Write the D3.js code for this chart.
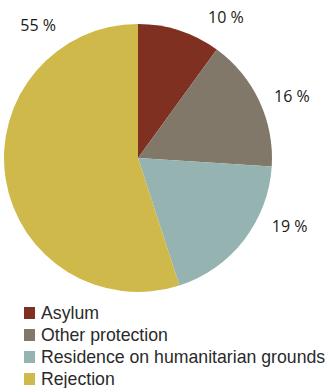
<!DOCTYPE html>
<html>
<head>
<meta charset="utf-8">
<script src="https://cdn.jsdelivr.net/npm/d3@7/dist/d3.min.js"></script>
<style>
  html, body { margin: 0; padding: 0; background: #fff; }
  svg { display: block; }
</style>
</head>
<body>
<svg id="chart" width="331" height="388"></svg>
<script>
// Outcome of decisions, share in percent
const categories = ["Asylum", "Other protection", "Residence on humanitarian grounds", "Rejection"];
const shares = [10, 16, 19, 55];
const colors = ["#7f3020", "#81786a", "#95b3b0", "#cfb94b"];

// Angle (degrees from 12 o'clock) at which each percentage label sits
const labelAngles = [32, 68, 114, 323];

const svg = d3.select("#chart");
const cx = 138, cy = 158, r = 134, labelR = 166;

const pie = d3.pie().sort(null).value(d => d)(shares);
const arc = d3.arc().innerRadius(0).outerRadius(r);

const g = svg.append("g").attr("transform", `translate(${cx},${cy})`);
g.selectAll("path")
  .data(pie)
  .join("path")
  .attr("d", arc)
  .attr("fill", (d, i) => colors[i]);

g.selectAll("text.pct")
  .data(pie)
  .join("text")
  .attr("class", "pct")
  .attr("x", (d, i) => labelR * Math.sin(labelAngles[i] * Math.PI / 180))
  .attr("y", (d, i) => -labelR * Math.cos(labelAngles[i] * Math.PI / 180))
  .attr("text-anchor", "middle")
  .attr("dominant-baseline", "central")
  .attr("font-family", "'Open Sans', 'Noto Sans', sans-serif")
  .attr("font-size", 16)
  .attr("fill", "#1a1a1a")
  .text(d => `${d.data} %`);

// Legend
const legend = svg.append("g").attr("transform", "translate(24,313)");
const rows = legend.selectAll("g")
  .data(categories)
  .join("g")
  .attr("transform", (d, i) => `translate(0,${i * 22})`);
rows.append("rect")
  .attr("x", 0).attr("y", -6)
  .attr("width", 11).attr("height", 12)
  .attr("fill", (d, i) => colors[i]);
rows.append("text")
  .attr("x", 17)
  .attr("y", 6)
  .attr("font-family", "'Liberation Sans', Arial, sans-serif")
  .attr("font-size", 17.7)
  .attr("fill", "#2a2a2a")
  .text(d => d);
</script>
</body>
</html>
